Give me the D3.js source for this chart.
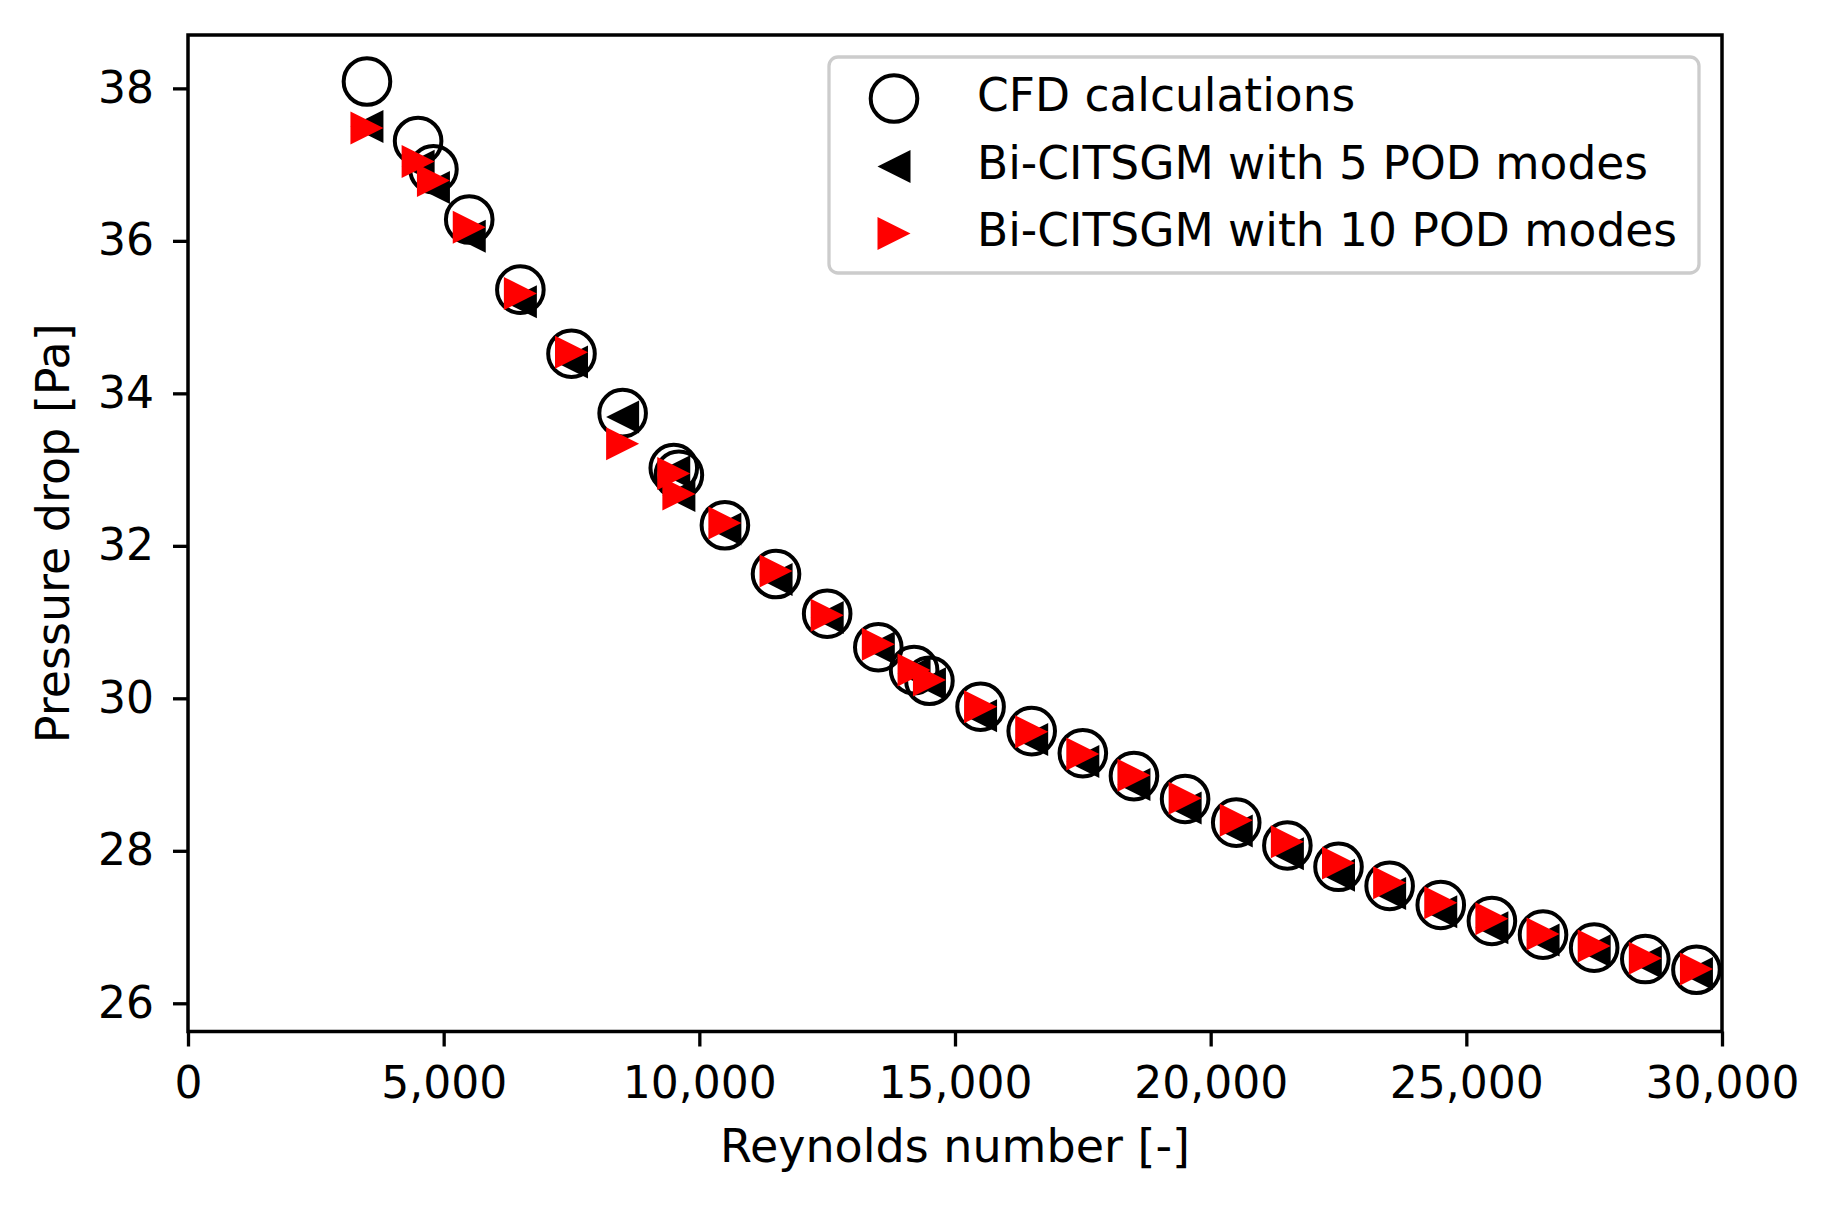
<!DOCTYPE html>
<html>
<head>
<meta charset="utf-8">
<script src="https://cdn.jsdelivr.net/npm/d3@7"></script>
<style>
  body { margin: 0; background: #fff; }
  text { font-family: "DejaVu Sans", sans-serif; fill: #000; }
</style>
</head>
<body>
<script>
// Reynolds numbers of the test cases
const reynolds = [3500, 4500, 4800, 5500, 6500, 7500, 8500, 9500, 9600, 10500,
    11500, 12500, 13500, 14200, 14500, 15500, 16500, 17500, 18500, 19500,
    20500, 21500, 22500, 23500, 24500, 25500, 26500, 27500, 28500, 29500];

// pressure drop [Pa] for each series
const cfd = [38.09, 37.31, 36.94, 36.28, 35.36, 34.52, 33.74, 33.02, 32.93, 32.27,
    31.63, 31.11, 30.67, 30.37, 30.23, 29.89, 29.57, 29.28, 28.98, 28.68,
    28.37, 28.07, 27.79, 27.54, 27.29, 27.08, 26.90, 26.73, 26.58, 26.44];
const pod5 = [37.50, 36.98, 36.70, 36.06, 35.20, 34.41, 33.69, 32.97, 32.66, 32.22,
    31.56, 31.06, 30.66, 30.33, 30.19, 29.77, 29.46, 29.17, 28.87, 28.56,
    28.26, 27.96, 27.68, 27.44, 27.20, 26.99, 26.83, 26.69, 26.54, 26.39];
const pod10 = [37.48, 37.04, 36.79, 36.18, 35.31, 34.54, 33.34, 32.95, 32.68, 32.30,
    31.67, 31.09, 30.71, 30.37, 30.24, 29.89, 29.56, 29.27, 28.99, 28.69,
    28.40, 28.12, 27.84, 27.58, 27.32, 27.11, 26.91, 26.75, 26.59, 26.45];

const xTicks = [0, 5000, 10000, 15000, 20000, 25000, 30000];
const yTicks = [26, 28, 30, 32, 34, 36, 38];
const legendLabels = ["CFD calculations", "Bi-CITSGM with 5 POD modes", "Bi-CITSGM with 10 POD modes"];

// canvas and plot area
const canvWidth = 1822, canvHeight = 1210;
const margin = {top: 35, right: 100, bottom: 178.5, left: 188};
const width = canvWidth - margin.left - margin.right;
const height = canvHeight - margin.top - margin.bottom;

const svg = d3.select("body").append("svg")
    .attr("width", canvWidth)
    .attr("height", canvHeight);

const g = svg.append("g")
    .attr("transform", `translate(${margin.left},${margin.top})`);

const xScale = d3.scaleLinear().domain([0, 30000]).range([0, width]);
const yScale = d3.scaleLinear().domain([25.63, 38.70]).range([height, 0]);

// axes
const xAxis = d3.axisBottom(xScale).tickValues(xTicks).tickFormat(d3.format(","))
    .tickSizeInner(15).tickSizeOuter(0).tickPadding(20);
const yAxis = d3.axisLeft(yScale).tickValues(yTicks).tickFormat(d3.format("d"))
    .tickSizeInner(15).tickSizeOuter(0).tickPadding(19);

const gx = g.append("g").attr("transform", `translate(0,${height})`).call(xAxis);
const gy = g.append("g").call(yAxis);

[gx, gy].forEach(a => {
    a.select(".domain").remove();
    a.selectAll(".tick line").attr("stroke", "#000").attr("stroke-width", 3.3);
    a.selectAll(".tick text").attr("font-size", "44px").attr("font-family", "DejaVu Sans").attr("fill", "#000");
});

// markers
const tri = 16.5;
const leftTri = (x, y) => `M${x - tri},${y}L${x + tri},${y - tri}L${x + tri},${y + tri}Z`;
const rightTri = (x, y) => `M${x + tri},${y}L${x - tri},${y - tri}L${x - tri},${y + tri}Z`;

g.selectAll("circle.cfd")
    .data(reynolds)
    .enter().append("circle")
    .attr("class", "cfd")
    .attr("cx", d => xScale(d))
    .attr("cy", (d, i) => yScale(cfd[i]))
    .attr("r", 23.3)
    .attr("fill", "none")
    .attr("stroke", "#000")
    .attr("stroke-width", 4);

g.selectAll("path.pod5")
    .data(reynolds)
    .enter().append("path")
    .attr("class", "pod5")
    .attr("d", (d, i) => leftTri(xScale(d), yScale(pod5[i])))
    .attr("fill", "#000");

g.selectAll("path.pod10")
    .data(reynolds)
    .enter().append("path")
    .attr("class", "pod10")
    .attr("d", (d, i) => rightTri(xScale(d), yScale(pod10[i])))
    .attr("fill", "#ff0000");

// frame (all four spines)
g.append("rect")
    .attr("x", 0).attr("y", 0)
    .attr("width", width).attr("height", height)
    .attr("fill", "none")
    .attr("stroke", "#000")
    .attr("stroke-width", 3.5);

// axis titles
svg.append("text")
    .attr("x", margin.left + width / 2)
    .attr("y", 1162)
    .attr("font-size", "46px")
    .attr("text-anchor", "middle")
    .text("Reynolds number [-]");

svg.append("text")
    .attr("transform", `translate(69,${margin.top + height / 2}) rotate(-90)`)
    .attr("font-size", "46px")
    .attr("text-anchor", "middle")
    .text("Pressure drop [Pa]");

// legend
const legend = svg.append("g").attr("transform", "translate(829,57)");
legend.append("rect")
    .attr("width", 870).attr("height", 216)
    .attr("rx", 9)
    .attr("fill", "#fff").attr("fill-opacity", 0.8)
    .attr("stroke", "#cccccc").attr("stroke-width", 3.3);

const rowY = [41.5, 109.5, 176.5];
const mx = 65;
legend.append("circle")
    .attr("cx", mx).attr("cy", rowY[0]).attr("r", 23.3)
    .attr("fill", "none").attr("stroke", "#000").attr("stroke-width", 4);
legend.append("path").attr("d", leftTri(mx, rowY[1])).attr("fill", "#000");
legend.append("path").attr("d", rightTri(mx, rowY[2])).attr("fill", "#ff0000");

legend.selectAll("text.lab")
    .data(legendLabels)
    .enter().append("text")
    .attr("class", "lab")
    .attr("x", 148)
    .attr("y", (d, i) => rowY[i] + 12)
    .attr("font-size", "45.5px")
    .text(d => d);
</script>
</body>
</html>
